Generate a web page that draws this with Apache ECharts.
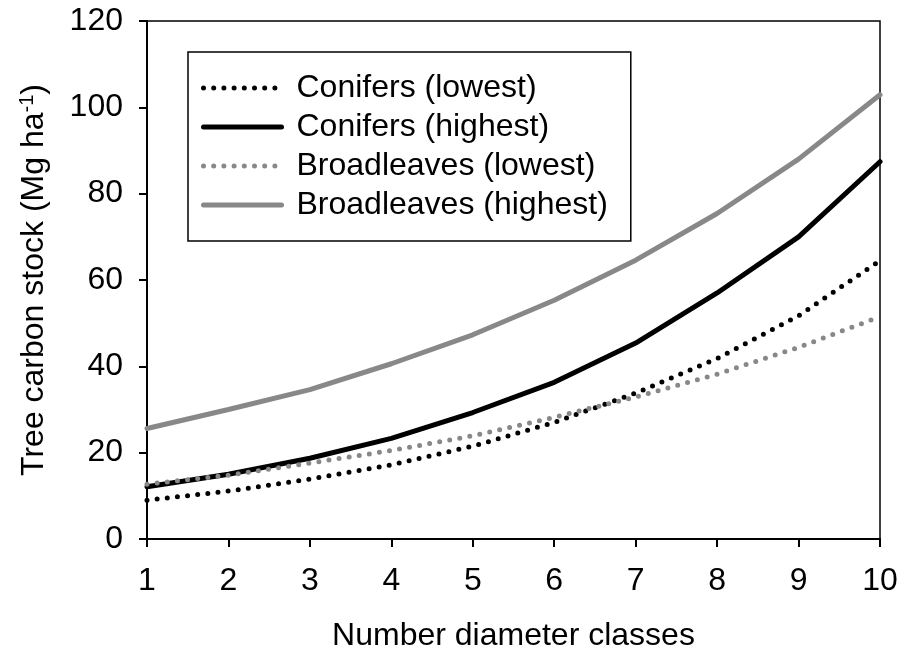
<!DOCTYPE html>
<html>
<head>
<meta charset="utf-8">
<script src="https://cdn.jsdelivr.net/npm/echarts@6/dist/echarts.min.js"></script>
<style>
  html, body { margin: 0; padding: 0; background: #fff; }
  #chart { width: 901px; height: 657px; }
</style>
</head>
<body>
<div id="chart"></div>
<script>
// Number of diameter classes
const classes = [1, 2, 3, 4, 5, 6, 7, 8, 9, 10];

// Tree carbon stock (Mg ha-1)
const conifersLowest = [9.0, 11.1, 13.9, 17.2, 21.5, 27.0, 33.8, 41.8, 51.7, 64.5];
const conifersHighest = [12.1, 15.0, 18.7, 23.3, 29.3, 36.3, 45.4, 57.0, 70.0, 87.4];
const broadleavesLowest = [12.7, 14.8, 17.6, 20.5, 23.9, 28.2, 32.9, 38.2, 44.4, 51.5];
const broadleavesHighest = [25.6, 30.0, 34.6, 40.6, 47.3, 55.3, 64.6, 75.4, 88.0, 102.9];

const seriesNames = ['Conifers (lowest)', 'Conifers (highest)', 'Broadleaves (lowest)', 'Broadleaves (highest)'];

const font = 'Liberation Sans, Arial, sans-serif';
const black = '#000000';
const grey = '#888888';

function pairs(vals) {
  return classes.map((c, i) => [c, vals[i]]);
}

function lineSeries(name, vals, color, dotted) {
  return {
    name: name,
    type: 'line',
    data: pairs(vals),
    symbol: 'none',
    smooth: false,
    color: color,
    lineStyle: dotted
      ? { color: color, width: 5, type: [0, 10.2], cap: 'round' }
      : { color: color, width: 5, type: 'solid', cap: 'round' },
    emphasis: { disabled: true }
  };
}

const chart = echarts.init(document.getElementById('chart'), null, { renderer: 'canvas' });

chart.setOption({
  animation: false,
  backgroundColor: '#ffffff',
  grid: {
    left: 147, right: 21, top: 21, bottom: 114,
    show: true, borderColor: black, borderWidth: 1.5, backgroundColor: 'transparent'
  },
  legend: {
    data: seriesNames,
    orient: 'vertical',
    left: 188, top: 52,
    padding: [20, 23, 20, 13],
    itemGap: 7,
    itemWidth: 78,
    itemHeight: 26,
    borderColor: black,
    borderWidth: 1.5,
    backgroundColor: '#ffffff',
    itemStyle: { opacity: 0 },
    lineStyle: { width: 5 },
    textStyle: { fontFamily: font, fontSize: 32, color: black, padding: [0, 0, 0, 10] },
    selectedMode: false
  },
  xAxis: {
    type: 'value',
    min: 1, max: 10, interval: 1,
    name: 'Number diameter classes',
    nameLocation: 'middle',
    nameGap: 81,
    nameTextStyle: { fontFamily: font, fontSize: 32, color: black },
    axisLine: { show: true, onZero: false, lineStyle: { color: black, width: 2 } },
    axisTick: { show: true, inside: false, length: 8, lineStyle: { color: black, width: 2 } },
    axisLabel: { fontFamily: font, fontSize: 32, color: black, margin: 26 },
    splitLine: { show: false }
  },
  yAxis: {
    type: 'value',
    min: 0, max: 120, interval: 20,
    name: '{t|Tree carbon stock (Mg ha}{s|-1}{t|)}',
    nameLocation: 'middle',
    nameGap: 96,
    nameRotate: 90,
    nameTextStyle: {
      fontFamily: font, fontSize: 32, color: black,
      rich: {
        t: { fontFamily: font, fontSize: 32, color: black },
        s: { fontFamily: font, fontSize: 20, color: black, verticalAlign: 'top', padding: [0, 0, 14, 0] }
      }
    },
    axisLine: { show: true, lineStyle: { color: black, width: 2 } },
    axisTick: { show: true, inside: false, length: 8, lineStyle: { color: black, width: 2 } },
    axisLabel: { fontFamily: font, fontSize: 32, color: black, margin: 24 },
    splitLine: { show: false }
  },
  series: [
    lineSeries(seriesNames[0], conifersLowest, black, true),
    lineSeries(seriesNames[1], conifersHighest, black, false),
    lineSeries(seriesNames[2], broadleavesLowest, grey, true),
    lineSeries(seriesNames[3], broadleavesHighest, grey, false)
  ]
});
</script>
</body>
</html>
